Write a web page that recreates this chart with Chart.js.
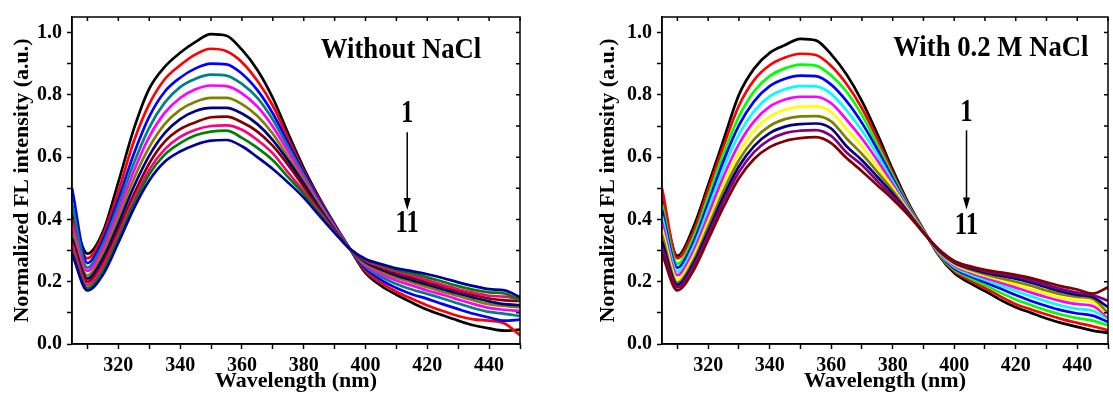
<!DOCTYPE html>
<html>
<head>
<meta charset="utf-8">
<script src="https://cdn.jsdelivr.net/npm/chart.js@4.4.1/dist/chart.umd.min.js"></script>
<style>
  body { margin: 0; background: #fff; }
  #wrap { position: relative; width: 1113px; height: 400px; overflow: hidden; }
  canvas { position: absolute; top: 0; }
</style>
</head>
<body>
<div id="wrap">
  <canvas id="left" width="540" height="400" style="left:0"></canvas>
  <canvas id="right" width="527" height="400" style="left:586px"></canvas>
</div>
<script>
// wavelength grid (nm), shared by every curve
const wavelengths = [305, 310, 315, 320, 325, 330, 335, 340, 345, 350, 355, 360, 365, 370, 375,
  380, 385, 390, 395, 400, 405, 410, 415, 420, 425, 430, 435, 440, 445, 450];

const xTickLabels = [320, 340, 360, 380, 400, 420, 440];
const yTickLabels = [0.0, 0.2, 0.4, 0.6, 0.8, 1.0];

// without NaCl, curves 1 -> 11
const leftColors = ['#000000', '#FF0000', '#0000FF', '#008080', '#FF00FF', '#808000',
  '#000080', '#800000', '#FF0080', '#008000', '#0000A0'];
const leftCurves = [
  [0.42, 0.29, 0.36, 0.52, 0.69, 0.82, 0.89, 0.935, 0.97, 0.995, 0.99, 0.945, 0.88, 0.79, 0.675, 0.565, 0.47, 0.385, 0.305, 0.228, 0.187, 0.158, 0.133, 0.11, 0.092, 0.075, 0.06, 0.05, 0.043, 0.046],
  [0.40, 0.275, 0.35, 0.49, 0.65, 0.77, 0.85, 0.895, 0.93, 0.948, 0.94, 0.905, 0.845, 0.765, 0.66, 0.555, 0.465, 0.382, 0.305, 0.234, 0.196, 0.168, 0.145, 0.124, 0.106, 0.09, 0.079, 0.075, 0.066, 0.028],
  [0.50, 0.26, 0.335, 0.465, 0.61, 0.73, 0.81, 0.855, 0.885, 0.90, 0.898, 0.868, 0.815, 0.74, 0.645, 0.55, 0.46, 0.38, 0.305, 0.242, 0.206, 0.18, 0.16, 0.145, 0.128, 0.112, 0.097, 0.085, 0.075, 0.078],
  [0.45, 0.245, 0.32, 0.445, 0.58, 0.695, 0.775, 0.825, 0.852, 0.865, 0.862, 0.835, 0.79, 0.72, 0.632, 0.543, 0.455, 0.377, 0.305, 0.248, 0.216, 0.193, 0.175, 0.161, 0.146, 0.13, 0.115, 0.103, 0.097, 0.09],
  [0.38, 0.235, 0.305, 0.425, 0.555, 0.665, 0.742, 0.79, 0.818, 0.83, 0.828, 0.805, 0.762, 0.698, 0.617, 0.535, 0.45, 0.374, 0.305, 0.253, 0.225, 0.204, 0.188, 0.172, 0.158, 0.143, 0.128, 0.116, 0.11, 0.106],
  [0.36, 0.22, 0.29, 0.405, 0.53, 0.632, 0.706, 0.752, 0.778, 0.79, 0.79, 0.77, 0.732, 0.675, 0.6, 0.525, 0.445, 0.37, 0.305, 0.258, 0.233, 0.213, 0.198, 0.182, 0.168, 0.154, 0.14, 0.128, 0.122, 0.118],
  [0.34, 0.21, 0.275, 0.385, 0.505, 0.605, 0.677, 0.722, 0.748, 0.758, 0.758, 0.74, 0.706, 0.655, 0.588, 0.515, 0.438, 0.367, 0.305, 0.263, 0.239, 0.22, 0.205, 0.19, 0.176, 0.162, 0.149, 0.137, 0.128, 0.125],
  [0.33, 0.20, 0.262, 0.367, 0.48, 0.58, 0.65, 0.69, 0.712, 0.728, 0.73, 0.712, 0.682, 0.636, 0.574, 0.505, 0.432, 0.364, 0.305, 0.266, 0.244, 0.227, 0.213, 0.198, 0.184, 0.17, 0.157, 0.146, 0.14, 0.138],
  [0.32, 0.19, 0.25, 0.352, 0.465, 0.56, 0.625, 0.665, 0.688, 0.70, 0.702, 0.688, 0.655, 0.612, 0.55, 0.49, 0.425, 0.361, 0.305, 0.269, 0.249, 0.233, 0.22, 0.205, 0.19, 0.176, 0.164, 0.155, 0.152, 0.145],
  [0.30, 0.18, 0.235, 0.34, 0.45, 0.545, 0.608, 0.645, 0.67, 0.682, 0.685, 0.662, 0.63, 0.59, 0.535, 0.482, 0.42, 0.359, 0.305, 0.271, 0.253, 0.238, 0.227, 0.214, 0.2, 0.186, 0.174, 0.166, 0.162, 0.14],
  [0.29, 0.172, 0.222, 0.325, 0.435, 0.525, 0.585, 0.618, 0.64, 0.653, 0.655, 0.635, 0.60, 0.562, 0.518, 0.47, 0.413, 0.357, 0.305, 0.273, 0.257, 0.243, 0.234, 0.224, 0.212, 0.198, 0.186, 0.176, 0.172, 0.15],
];

// with 0.2 M NaCl, curves 1 -> 11
const rightColors = ['#000000', '#FF0000', '#00FF00', '#0000FF', '#00FFFF', '#FF00FF',
  '#FFFF00', '#808000', '#000080', '#800080', '#800000'];
const rightCurves = [
  [0.47, 0.283, 0.37, 0.51, 0.655, 0.80, 0.885, 0.935, 0.96, 0.98, 0.975, 0.93, 0.865, 0.78, 0.675, 0.56, 0.455, 0.368, 0.284, 0.228, 0.196, 0.17, 0.142, 0.118, 0.1, 0.082, 0.067, 0.055, 0.043, 0.036],
  [0.50, 0.275, 0.355, 0.495, 0.635, 0.765, 0.848, 0.895, 0.92, 0.932, 0.928, 0.893, 0.835, 0.757, 0.658, 0.55, 0.45, 0.366, 0.286, 0.234, 0.205, 0.18, 0.153, 0.128, 0.111, 0.095, 0.08, 0.068, 0.057, 0.044],
  [0.45, 0.257, 0.337, 0.472, 0.61, 0.73, 0.812, 0.86, 0.885, 0.897, 0.894, 0.862, 0.81, 0.735, 0.64, 0.541, 0.446, 0.365, 0.288, 0.239, 0.212, 0.189, 0.165, 0.143, 0.125, 0.108, 0.094, 0.083, 0.075, 0.06],
  [0.43, 0.245, 0.322, 0.452, 0.588, 0.702, 0.78, 0.828, 0.852, 0.862, 0.86, 0.833, 0.78, 0.71, 0.625, 0.532, 0.442, 0.364, 0.29, 0.243, 0.218, 0.198, 0.178, 0.157, 0.138, 0.122, 0.108, 0.098, 0.091, 0.071],
  [0.41, 0.232, 0.307, 0.433, 0.563, 0.672, 0.748, 0.795, 0.818, 0.828, 0.827, 0.803, 0.75, 0.685, 0.608, 0.522, 0.438, 0.363, 0.292, 0.248, 0.224, 0.206, 0.188, 0.17, 0.153, 0.137, 0.123, 0.113, 0.107, 0.081],
  [0.39, 0.221, 0.293, 0.413, 0.538, 0.642, 0.716, 0.762, 0.785, 0.794, 0.794, 0.773, 0.72, 0.66, 0.59, 0.513, 0.434, 0.362, 0.294, 0.252, 0.23, 0.213, 0.197, 0.181, 0.165, 0.15, 0.137, 0.128, 0.122, 0.086],
  [0.37, 0.208, 0.278, 0.393, 0.513, 0.614, 0.686, 0.73, 0.752, 0.762, 0.763, 0.745, 0.69, 0.635, 0.57, 0.503, 0.43, 0.361, 0.296, 0.256, 0.235, 0.219, 0.205, 0.191, 0.176, 0.161, 0.148, 0.14, 0.134, 0.092],
  [0.35, 0.197, 0.265, 0.376, 0.492, 0.59, 0.658, 0.70, 0.722, 0.731, 0.732, 0.715, 0.66, 0.61, 0.553, 0.493, 0.426, 0.36, 0.298, 0.259, 0.239, 0.224, 0.211, 0.2, 0.187, 0.172, 0.159, 0.151, 0.145, 0.10],
  [0.33, 0.19, 0.255, 0.362, 0.474, 0.57, 0.636, 0.677, 0.698, 0.706, 0.708, 0.692, 0.635, 0.59, 0.537, 0.483, 0.422, 0.359, 0.3, 0.262, 0.243, 0.229, 0.219, 0.21, 0.197, 0.182, 0.168, 0.158, 0.151, 0.118],
  [0.31, 0.182, 0.245, 0.35, 0.458, 0.552, 0.617, 0.656, 0.677, 0.685, 0.687, 0.668, 0.615, 0.575, 0.523, 0.474, 0.419, 0.358, 0.302, 0.265, 0.247, 0.234, 0.225, 0.217, 0.205, 0.19, 0.176, 0.165, 0.157, 0.139],
  [0.29, 0.172, 0.232, 0.335, 0.44, 0.532, 0.595, 0.632, 0.652, 0.661, 0.664, 0.645, 0.597, 0.555, 0.51, 0.465, 0.415, 0.357, 0.304, 0.267, 0.25, 0.238, 0.23, 0.222, 0.212, 0.198, 0.185, 0.175, 0.162, 0.182],
];

const FONT = '"Liberation Serif", "Times New Roman", serif';

const drawText = (ctx, text, x, y, size, sx) => {
  ctx.save();
  ctx.translate(x, y);
  ctx.scale(sx, 1); // the original lettering is a bit narrow
  ctx.font = `bold ${size}px ${FONT}`;
  ctx.textAlign = 'center';
  ctx.textBaseline = 'middle';
  ctx.fillStyle = '#000';
  ctx.fillText(text, 0, 0);
  ctx.restore();
};

// box round the plot, inward ticks on top/right, and the 1 -> 11 arrow
const framePlugin = {
  id: 'frame',
  afterDraw(chart, args, opts) {
    const { ctx, chartArea: a, scales: { x, y } } = chart;
    ctx.save();
    ctx.strokeStyle = '#000';
    ctx.lineWidth = 1.5;
    ctx.strokeRect(a.left, a.top, a.right - a.left, a.bottom - a.top);
    ctx.beginPath();
    x.ticks.forEach((t) => {
      const px = x.getPixelForValue(t.value);
      ctx.moveTo(px, a.top);
      ctx.lineTo(px, a.top + 4);
    });
    y.ticks.forEach((t) => {
      const py = y.getPixelForValue(t.value);
      ctx.moveTo(a.right, py);
      ctx.lineTo(a.right - 4, py);
    });
    ctx.stroke();

    const ax = x.getPixelForValue(opts.arrowX);
    const top = y.getPixelForValue(opts.arrowFrom);
    const tip = y.getPixelForValue(opts.arrowTo);
    ctx.beginPath();
    ctx.moveTo(ax, top);
    ctx.lineTo(ax, tip - 8);
    ctx.stroke();
    ctx.beginPath();
    ctx.moveTo(ax, tip);
    ctx.lineTo(ax - 3.5, tip - 12);
    ctx.lineTo(ax + 3.5, tip - 12);
    ctx.closePath();
    ctx.fillStyle = '#000';
    ctx.fill();

    drawText(ctx, '1', ax, y.getPixelForValue(opts.startY), 31, 0.8);
    drawText(ctx, '11', ax, y.getPixelForValue(opts.endY), 31, 0.8);
    drawText(ctx, opts.label, x.getPixelForValue(opts.labelX), y.getPixelForValue(opts.labelY), 30, 0.89);
    ctx.restore();
  },
};

const makeChart = (id, curves, colors, yAxisWidth, padRight, note) => {
  const datasets = curves.map((vals, i) => ({
    data: wavelengths.map((w, j) => ({ x: w, y: vals[j] })),
    borderColor: colors[i],
    borderWidth: 2.7,
    pointRadius: 0,
    fill: false,
    cubicInterpolationMode: 'monotone',
    order: curves.length - i,
  }));

  return new Chart(document.getElementById(id), {
    type: 'line',
    data: { datasets },
    options: {
      responsive: false,
      animation: false,
      devicePixelRatio: 1,
      layout: { padding: { top: 14, right: padRight, left: 0, bottom: 0 } },
      plugins: {
        legend: { display: false },
        tooltip: { enabled: false },
        frame: note,
      },
      scales: {
        x: {
          type: 'linear',
          min: 305,
          max: 450,
          afterFit: (scale) => { scale.height = 56; },
          grid: { drawOnChartArea: false, tickLength: 5, tickWidth: 1.5, tickColor: '#000' },
          border: { display: true, color: '#000', width: 1.5 },
          ticks: {
            stepSize: 10,
            includeBounds: false,
            autoSkip: false,
            maxRotation: 0,
            padding: 5,
            color: '#000',
            font: { family: FONT, size: 20, weight: 'bold' },
            callback: (v) => (xTickLabels.includes(v) ? String(v) : ''),
          },
          title: {
            display: true,
            text: 'Wavelength (nm)',
            color: '#000',
            font: { family: FONT, size: 22, weight: 'bold', lineHeight: 1.2 },
            padding: { top: 0, bottom: 5 },
          },
        },
        y: {
          min: 0,
          max: 1.05,
          afterFit: (scale) => { scale.width = yAxisWidth; },
          grid: { drawOnChartArea: false, tickLength: 5, tickWidth: 1.5, tickColor: '#000' },
          border: { display: true, color: '#000', width: 1.5 },
          ticks: {
            stepSize: 0.1,
            includeBounds: false,
            autoSkip: false,
            padding: 5,
            color: '#000',
            font: { family: FONT, size: 20, weight: 'bold' },
            callback: (v) => (yTickLabels.some((t) => Math.abs(t - v) < 1e-6) ? v.toFixed(1) : ''),
          },
          title: {
            display: true,
            text: 'Normalized FL intensity (a.u.)',
            color: '#000',
            font: { family: FONT, size: 22, weight: 'bold', lineHeight: 1.2 },
            padding: { top: 9, bottom: 0 },
          },
        },
      },
    },
    plugins: [framePlugin],
  });
};

makeChart('left', leftCurves, leftColors, 72, 20, {
  label: 'Without NaCl', labelX: 411.5, labelY: 0.944,
  arrowX: 413.5, arrowFrom: 0.68, arrowTo: 0.43, startY: 0.738, endY: 0.385,
});
makeChart('right', rightCurves, rightColors, 76, 2, {
  label: 'With 0.2 M NaCl', labelX: 411.9, labelY: 0.95,
  arrowX: 404, arrowFrom: 0.686, arrowTo: 0.432, startY: 0.743, endY: 0.378,
});
</script>
</body>
</html>
